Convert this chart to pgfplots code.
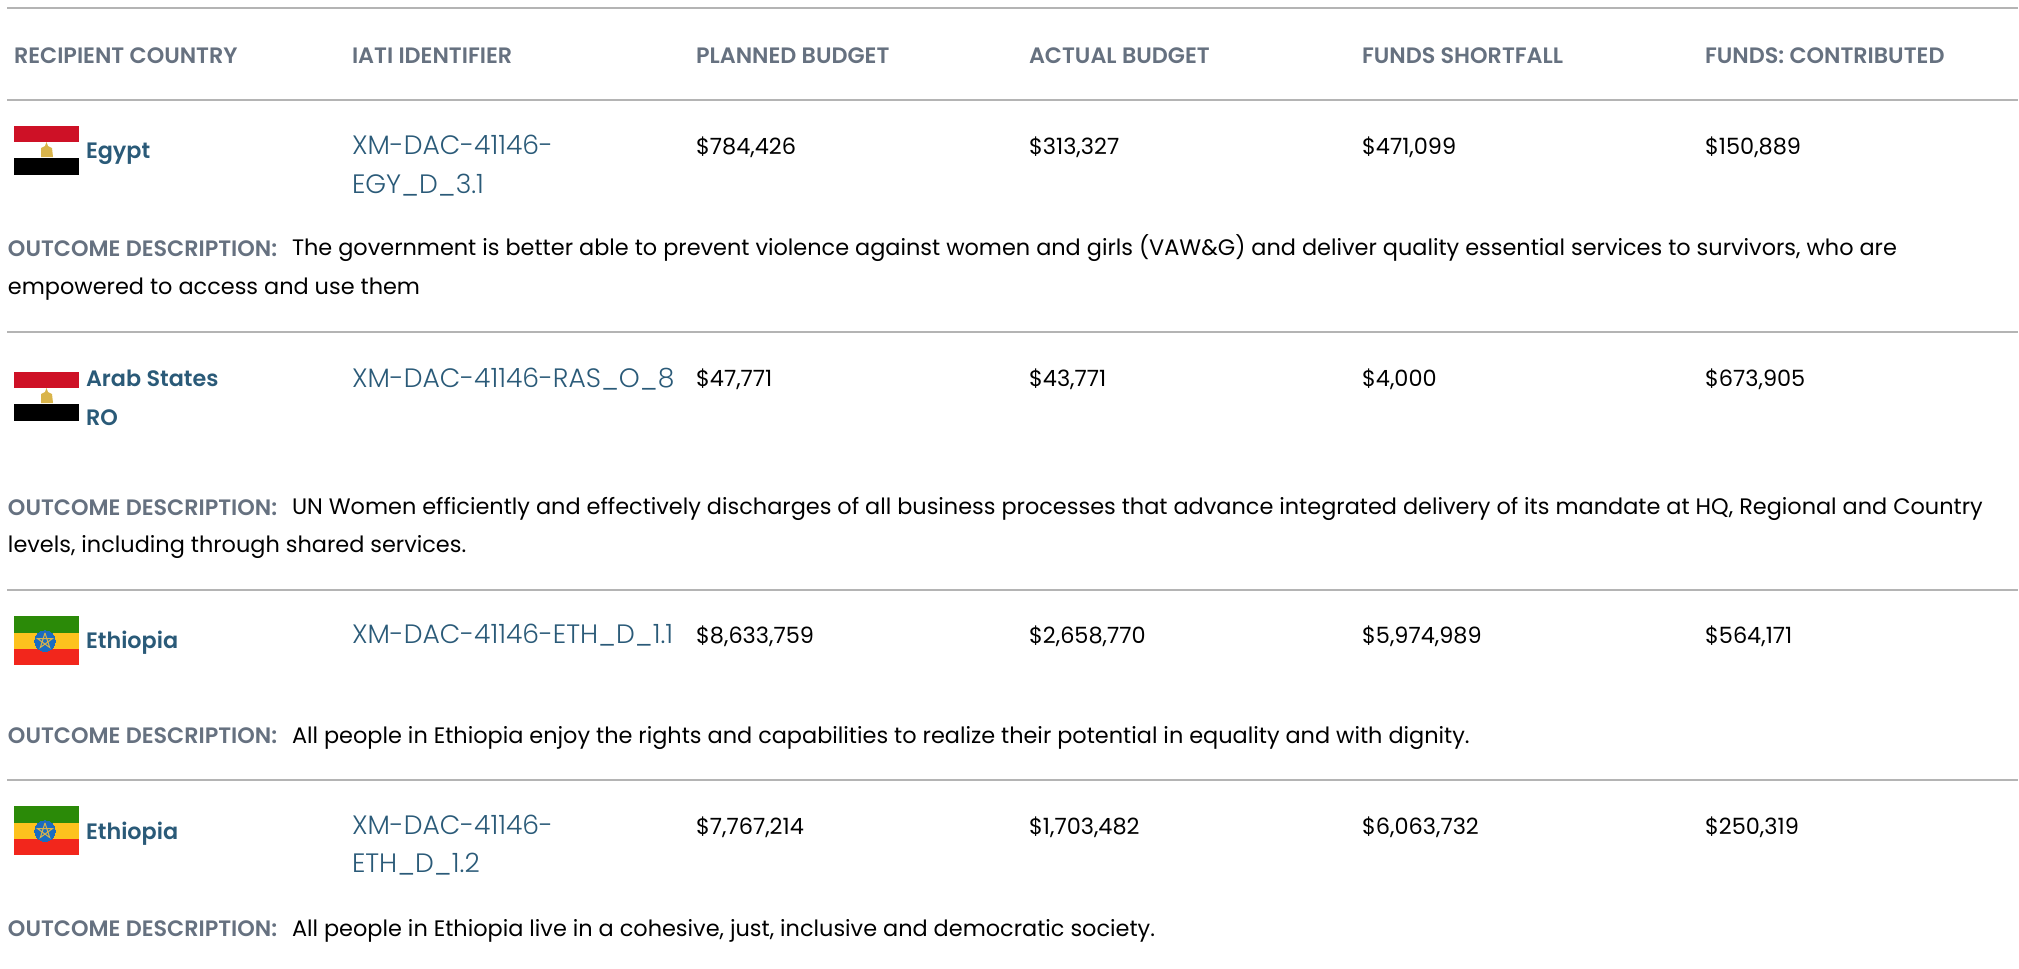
\documentclass[border=0pt]{standalone}
\usepackage{fontspec}
\setmainfont{Poppins}
\newfontfamily\psemi[UprightFont={* SemiBold}]{Poppins}
\newfontfamily\plight[UprightFont={* Light}]{Poppins}
\usepackage{pgfplots}
\pgfplotsset{compat=1.18}
\usepackage{pgfplotstable}
\definecolor{HeadGray}{HTML}{667180}
\definecolor{LinkBlue}{HTML}{2A5A78}
\definecolor{RuleGray}{HTML}{B4B4B4}
\definecolor{EgRed}{HTML}{CE1126}
\definecolor{EtGreen}{HTML}{2B8A08}
\definecolor{EtYellow}{HTML}{FDC21E}
\definecolor{EtRed}{HTML}{F2261C}
\definecolor{EtBlue}{HTML}{1B6CC0}
\definecolor{Gold}{HTML}{D9B44A}

% all positions in pixels of the 2019x969 page, y from the top
\pgfplotstableread{
x y label
14 63 {RECIPIENT COUNTRY}
352 63 {IATI IDENTIFIER}
696 63 {PLANNED BUDGET}
1029 63 {ACTUAL BUDGET}
1362 63 {FUNDS SHORTFALL}
1705 63 {FUNDS: CONTRIBUTED}
8 256 {OUTCOME DESCRIPTION:}
8 515 {OUTCOME DESCRIPTION:}
8 743 {OUTCOME DESCRIPTION:}
8 936 {OUTCOME DESCRIPTION:}
}\headcells
\pgfplotstableread{
x y label
86 158 {Egypt}
86 386 {Arab States}
86 425 {RO}
86 648 {Ethiopia}
86 839 {Ethiopia}
}\namecells
\pgfplotstableread{
x y label
352 154 {XM-DAC-41146-}
352 193 {EGY\_D\_3.1}
352 387 {XM-DAC-41146-RAS\_O\_8}
352 643 {XM-DAC-41146-ETH\_D\_1.1}
352 834 {XM-DAC-41146-}
352 872 {ETH\_D\_1.2}
}\idcells
\pgfplotstableread{
x y label
696 154 {\$784,426}
1029 154 {\$313,327}
1362 154 {\$471,099}
1705 154 {\$150,889}
696 386 {\$47,771}
1029 386 {\$43,771}
1362 386 {\$4,000}
1705 386 {\$673,905}
696 643 {\$8,633,759}
1029 643 {\$2,658,770}
1362 643 {\$5,974,989}
1705 643 {\$564,171}
696 834 {\$7,767,214}
1029 834 {\$1,703,482}
1362 834 {\$6,063,732}
1705 834 {\$250,319}
292 255 {The government is better able to prevent violence against women and girls (VAW\&G) and deliver quality essential services to survivors, who are}
8 294 {empowered to access and use them}
292 514 {UN Women efficiently and effectively discharges of all business processes that advance integrated delivery of its mandate at HQ, Regional and Country}
8 552 {levels, including through shared services.}
292 743 {All people in Ethiopia enjoy the rights and capabilities to realize their potential in equality and with dignity.}
292 936 {All people in Ethiopia live in a cohesive, just, inclusive and democratic society.}
}\bodycells

\pgfplotsset{
  textcells/.style={only marks, mark=none, point meta=explicit symbolic,
    nodes near coords, nodes near coords align={anchor=base west},
    nodes near coords style={inner sep=0pt, outer sep=0pt, font=#1}},
  hrule/.style={draw=RuleGray, line width=0.6pt, forget plot},
  band/.style={fill=#1, draw=none, forget plot},
  penta/.style={draw=Gold, line width=0.5pt, forget plot},
}

\begin{document}
\begin{tikzpicture}
\begin{axis}[
    hide axis, scale only axis, clip=false, clip mode=individual,
    width=1009.5pt, height=484.5pt,
    xmin=0, xmax=2019, ymin=0, ymax=969, y dir=reverse,
]
% keeps the page as large as the reference
\addplot[draw=none, forget plot] coordinates {(0,0) (2019,969)};
% rules
\addplot[hrule] coordinates {(7,8) (2018,8)};
\addplot[hrule] coordinates {(7,100) (2018,100)};
\addplot[hrule] coordinates {(7,332) (2018,332)};
\addplot[hrule] coordinates {(7,590) (2018,590)};
\addplot[hrule] coordinates {(7,780) (2018,780)};
% Egypt flag, row 1
\addplot[band=EgRed] coordinates {(14,126) (79,126) (79,142) (14,142)} -- cycle;
\addplot[band=black] coordinates {(14,158) (79,158) (79,175) (14,175)} -- cycle;
\addplot[band=Gold] coordinates {(46.5,142) (48,146) (52,148) (53,157) (41,157) (41,148) (45,146)} -- cycle;
% Egypt flag, row 2
\addplot[band=EgRed] coordinates {(14,372) (79,372) (79,388) (14,388)} -- cycle;
\addplot[band=black] coordinates {(14,404) (79,404) (79,421) (14,421)} -- cycle;
\addplot[band=Gold] coordinates {(46.5,388) (48,392) (52,394) (53,403) (41,403) (41,394) (45,392)} -- cycle;
% Ethiopia flags
\addplot[band=EtGreen] coordinates {(14,616) (79,616) (79,633) (14,633)} -- cycle;
\addplot[band=EtYellow] coordinates {(14,633) (79,633) (79,649) (14,649)} -- cycle;
\addplot[band=EtRed] coordinates {(14,649) (79,649) (79,665) (14,665)} -- cycle;
\addplot[band=EtGreen] coordinates {(14,806) (79,806) (79,823) (14,823)} -- cycle;
\addplot[band=EtYellow] coordinates {(14,823) (79,823) (79,839) (14,839)} -- cycle;
\addplot[band=EtRed] coordinates {(14,839) (79,839) (79,855) (14,855)} -- cycle;
\addplot[only marks, mark=*, mark size=5.2pt, mark options={fill=EtBlue, draw=EtBlue, line width=0pt}, forget plot]
  coordinates {(45,641) (45,831)};
\addplot[penta] coordinates {(45,633) (49.7,647.5) (37.4,638.5) (52.6,638.5) (40.3,647.5) (45,633)};
\addplot[penta] coordinates {(45,823) (49.7,837.5) (37.4,828.5) (52.6,828.5) (40.3,837.5) (45,823)};
% table text
\addplot[textcells={\psemi\fontsize{11.15}{13}\selectfont\color{HeadGray}}] table[x=x, y=y, meta=label] {\headcells};
\addplot[textcells={\psemi\fontsize{11.15}{13}\selectfont\color{LinkBlue}}] table[x=x, y=y, meta=label] {\namecells};
\addplot[textcells={\plight\fontsize{13.3}{15}\selectfont\color{LinkBlue}}] table[x=x, y=y, meta=label] {\idcells};
\addplot[textcells={\fontsize{11.2}{13}\selectfont\color{black}}] table[x=x, y=y, meta=label] {\bodycells};
\end{axis}
\end{tikzpicture}
\end{document}
